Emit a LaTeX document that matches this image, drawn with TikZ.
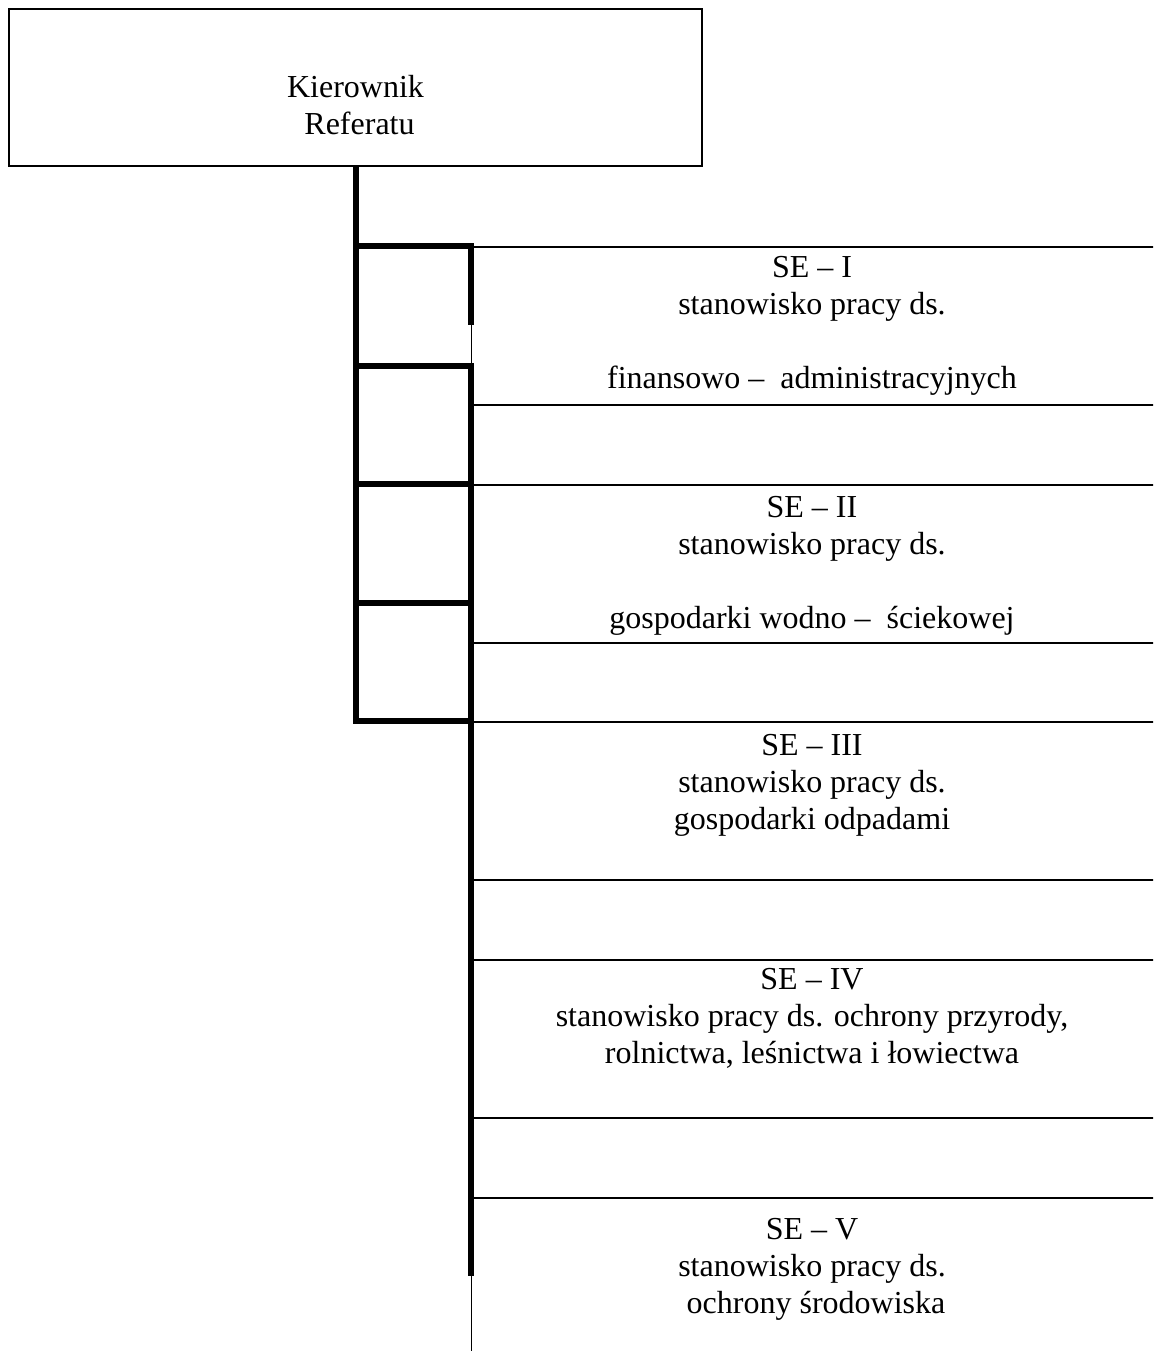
\documentclass[tikz,border=0pt]{standalone}
\usepackage{fontspec}
\setmainfont{Liberation Serif}
\usepackage{tikz}
\usetikzlibrary{positioning}
\tikzset{
  headbox/.style={rectangle, draw, line width=0.7pt, minimum width=259.9pt,
    minimum height=58.9pt, inner sep=0pt},
  sebox/.style={rectangle, draw, line width=0.7pt, minimum width=262.5pt,
    minimum height=59.25pt, inner sep=0pt, anchor=north west},
  setext/.style={align=center, inner sep=0pt, anchor=north,
    font=\fontsize{12}{13.85}\selectfont},
  bar/.style={line width=2.25pt}
}

\begin{document}
\begin{tikzpicture}[x=0.375pt, y=-0.375pt]
  \useasboundingbox (0,0) rectangle (1153,1351);
  \clip (0,0) rectangle (1153,1351);

  % head
  \node[headbox] (kier) at (355.5,87.5) {};
  \node[setext] (kiertxt) at (355.5,75) {Kierownik\\ \ Referatu};

  % stanowiska
  \node[sebox] (se1) at (470.5,246) {};
  \node[sebox] (se2) at (470.5,484) {};
  \node[sebox] (se3) at (470.5,721) {};
  \node[sebox] (se4) at (470.5,959) {};
  \node[sebox] (se5) at (470.5,1197) {};

  \node[setext] (se1txt) at (812,256) {SE -- I\\ stanowisko pracy ds.\\[13.85pt]
    finansowo --\ \ administracyjnych};
  \node[setext] (se2txt) at (812,496) {SE -- II\\ stanowisko pracy ds.\\[13.85pt]
    gospodarki wodno --\ \ ściekowej};
  \node[setext] (se3txt) at (812,734) {SE -- III\\ stanowisko pracy ds.\\
    gospodarki odpadami};
  \node[setext] (se4txt) at (812,968) {SE -- IV\\ stanowisko pracy ds. ochrony przyrody,\\
    rolnictwa, leśnictwa i łowiectwa};
  \node[setext] (se5txt) at (812,1218) {SE -- V\\ stanowisko pracy ds.\\
    \ ochrony środowiska};

  % polaczenia
  \draw[bar] (kier.south) -- (kier.south |- se3.north west) -- (se3.north west);
  \draw[bar] (kier.south |- se1.north west) -- (se1.north west) -- ++(0,79);
  \draw[bar] (kier.south |- 0,365.5) -- (470.5,365.5) -- (se5.north west) -- ++(0,79);
  \draw[bar] (kier.south |- se2.north west) -- (se2.north west);
  \draw[bar] (kier.south |- 0,603) -- (470.5,603);
\end{tikzpicture}
\end{document}
